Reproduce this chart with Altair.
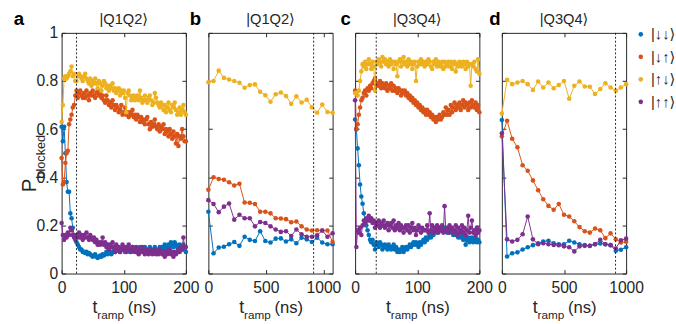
import altair as alt
import pandas as pd

FONT = "Liberation Sans, Arial, DejaVu Sans, sans-serif"
AX = "#262626"
STATES = ["|↓↓⟩", "|↓↑⟩", "|↑↓⟩", "|↑↑⟩"]
COLORS = ["#0072BD", "#D95319", "#EDB120", "#7E2F8E"]

W, H = 127, 246

# time axes (ns)
t_short = list(range(0, 201, 2))
t_b = [0, 45, 90, 135, 180, 225, 270, 315, 360, 405, 450, 495, 540,
       585, 630, 675, 720, 765, 810, 855, 900, 945, 990, 1035, 1080]
t_d = [0, 42, 83, 125, 167, 208, 250, 292, 333, 375, 417, 458, 500,
       542, 583, 625, 667, 708, 750, 792, 833, 875, 917, 958, 1000]

# ---------------- panel a : |Q1Q2>, 0-200 ns ----------------
a_dd = [0.61, 0.55, 0.61, 0.50, 0.38, 0.34, 0.34, 0.25, 0.23, 0.19,
        0.16, 0.15, 0.13, 0.12, 0.11, 0.10, 0.10, 0.09, 0.09, 0.085,
        0.09, 0.08, 0.085, 0.08, 0.075, 0.07, 0.075, 0.08, 0.07, 0.065,
        0.07, 0.075, 0.07, 0.08, 0.075, 0.08, 0.09, 0.08, 0.085, 0.09,
        0.08, 0.09, 0.095, 0.09, 0.10, 0.095, 0.10, 0.09, 0.10, 0.11,
        0.10, 0.09, 0.10, 0.11, 0.10, 0.09, 0.10, 0.11, 0.10, 0.105,
        0.10, 0.09, 0.10, 0.11, 0.10, 0.095, 0.10, 0.11, 0.10, 0.09,
        0.10, 0.11, 0.10, 0.095, 0.10, 0.11, 0.10, 0.09, 0.10, 0.11,
        0.10, 0.11, 0.10, 0.12, 0.11, 0.10, 0.12, 0.11, 0.13, 0.12,
        0.11, 0.13, 0.12, 0.11, 0.10, 0.12, 0.11, 0.10, 0.12, 0.10,
        0.09]
a_du = [0.48, 0.37, 0.38, 0.46, 0.50, 0.51, 0.62, 0.64, 0.66, 0.69,
        0.70, 0.74, 0.76, 0.73, 0.75, 0.76, 0.74, 0.73, 0.75, 0.73,
        0.76, 0.74, 0.72, 0.75, 0.74, 0.76, 0.74, 0.73, 0.75, 0.76,
        0.74, 0.75, 0.73, 0.74, 0.72, 0.71, 0.74, 0.72, 0.70, 0.71,
        0.69, 0.72, 0.70, 0.68, 0.70, 0.69, 0.67, 0.68, 0.70, 0.66,
        0.67, 0.69, 0.66, 0.67, 0.65, 0.67, 0.66, 0.68, 0.65, 0.66,
        0.64, 0.66, 0.65, 0.63, 0.65, 0.63, 0.64, 0.62, 0.64, 0.65,
        0.62, 0.60, 0.63, 0.61, 0.62, 0.64, 0.61, 0.60, 0.62, 0.59,
        0.61, 0.60, 0.62, 0.58, 0.60, 0.59, 0.57, 0.60, 0.58, 0.56,
        0.59, 0.57, 0.54, 0.58, 0.53, 0.57, 0.56, 0.60, 0.57, 0.55,
        0.55]
a_ud = [0.63, 0.70, 0.81, 0.82, 0.81, 0.82, 0.83, 0.84, 0.86, 0.82,
        0.83, 0.80, 0.80, 0.82, 0.83, 0.82, 0.81, 0.80, 0.82, 0.83,
        0.81, 0.80, 0.79, 0.81, 0.78, 0.80, 0.79, 0.81, 0.79, 0.77,
        0.80, 0.79, 0.76, 0.78, 0.80, 0.79, 0.77, 0.78, 0.76, 0.78,
        0.77, 0.79, 0.76, 0.77, 0.75, 0.76, 0.77, 0.74, 0.76, 0.75,
        0.76, 0.73, 0.67, 0.75, 0.76, 0.74, 0.72, 0.73, 0.74, 0.72,
        0.73, 0.74, 0.72, 0.76, 0.73, 0.71, 0.72, 0.74, 0.72, 0.71,
        0.73, 0.74, 0.72, 0.70, 0.71, 0.75, 0.73, 0.71, 0.70, 0.69,
        0.71, 0.70, 0.68, 0.70, 0.67, 0.69, 0.71, 0.68, 0.67, 0.70,
        0.69, 0.71, 0.68, 0.66, 0.67, 0.69, 0.66, 0.68, 0.70, 0.67,
        0.66]
a_uu = [0.21, 0.16, 0.14, 0.16, 0.15, 0.17, 0.16, 0.19, 0.18, 0.16,
        0.15, 0.14, 0.16, 0.15, 0.17, 0.15, 0.16, 0.14, 0.16, 0.15,
        0.17, 0.15, 0.14, 0.16, 0.15, 0.14, 0.15, 0.13, 0.14, 0.12,
        0.13, 0.12, 0.13, 0.15, 0.12, 0.13, 0.11, 0.12, 0.10, 0.12,
        0.11, 0.13, 0.11, 0.09, 0.12, 0.10, 0.11, 0.09, 0.10, 0.12,
        0.10, 0.11, 0.09, 0.10, 0.12, 0.10, 0.09, 0.11, 0.10, 0.09,
        0.11, 0.10, 0.08, 0.10, 0.09, 0.11, 0.09, 0.08, 0.10, 0.09,
        0.08, 0.10, 0.09, 0.08, 0.09, 0.10, 0.08, 0.09, 0.08, 0.10,
        0.09, 0.08, 0.09, 0.07, 0.09, 0.08, 0.09, 0.10, 0.08, 0.09,
        0.07, 0.09, 0.08, 0.09, 0.10, 0.09, 0.11, 0.10, 0.15, 0.11,
        0.11]

# ---------------- panel b : |Q1Q2>, long ramps ----------------
b_dd = [0.257, 0.084, 0.108, 0.111, 0.122, 0.131, 0.115, 0.153, 0.140, 0.135,
        0.176, 0.135, 0.129, 0.145, 0.146, 0.133, 0.142, 0.126, 0.149, 0.142,
        0.131, 0.149, 0.129, 0.122, 0.122]
b_du = [0.348, 0.400, 0.393, 0.390, 0.379, 0.366, 0.373, 0.295, 0.294, 0.289,
        0.257, 0.257, 0.250, 0.230, 0.229, 0.226, 0.213, 0.216, 0.196, 0.183,
        0.179, 0.180, 0.179, 0.179, 0.131]
b_ud = [0.795, 0.800, 0.843, 0.813, 0.806, 0.800, 0.793, 0.772, 0.783, 0.786,
        0.755, 0.741, 0.714, 0.745, 0.752, 0.738, 0.705, 0.736, 0.711, 0.722,
        0.691, 0.668, 0.702, 0.671, 0.668]
b_uu = [0.305, 0.289, 0.255, 0.278, 0.291, 0.224, 0.244, 0.230, 0.230, 0.196,
        0.214, 0.210, 0.196, 0.183, 0.173, 0.176, 0.156, 0.183, 0.163, 0.153,
        0.153, 0.159, 0.179, 0.153, 0.167]

# ---------------- panel c : |Q3Q4>, 0-200 ns ----------------
c_dd = [0.64, 0.60, 0.52, 0.45, 0.37, 0.32, 0.29, 0.25, 0.22, 0.20,
        0.18, 0.16, 0.14, 0.13, 0.14, 0.12, 0.10, 0.13, 0.12, 0.11,
        0.13, 0.12, 0.10, 0.11, 0.12, 0.11, 0.10, 0.12, 0.11, 0.10,
        0.11, 0.12, 0.10, 0.11, 0.09, 0.10, 0.09, 0.10, 0.11, 0.09,
        0.10, 0.11, 0.10, 0.11, 0.12, 0.11, 0.12, 0.13, 0.12, 0.13,
        0.12, 0.11, 0.13, 0.12, 0.13, 0.14, 0.13, 0.15, 0.14, 0.15,
        0.16, 0.15, 0.17, 0.16, 0.17, 0.18, 0.17, 0.18, 0.19, 0.18,
        0.19, 0.18, 0.19, 0.18, 0.17, 0.18, 0.17, 0.18, 0.17, 0.16,
        0.17, 0.16, 0.17, 0.15, 0.16, 0.15, 0.16, 0.14, 0.15, 0.12,
        0.14, 0.15, 0.13, 0.14, 0.15, 0.13, 0.14, 0.15, 0.13, 0.14,
        0.13]
c_du = [0.76, 0.60, 0.62, 0.66, 0.69, 0.72, 0.73, 0.75, 0.76, 0.74,
        0.77, 0.76, 0.78, 0.77, 0.79, 0.80, 0.81, 0.78, 0.79, 0.78,
        0.80, 0.77, 0.79, 0.78, 0.77, 0.79, 0.76, 0.78, 0.77, 0.79,
        0.76, 0.78, 0.76, 0.77, 0.75, 0.77, 0.76, 0.74, 0.76, 0.75,
        0.76, 0.74, 0.75, 0.73, 0.74, 0.72, 0.73, 0.71, 0.72, 0.70,
        0.71, 0.69, 0.70, 0.68, 0.69, 0.67, 0.68, 0.66, 0.68, 0.66,
        0.67, 0.65, 0.66, 0.64, 0.65, 0.63, 0.65, 0.64, 0.66, 0.64,
        0.65, 0.67, 0.66, 0.69, 0.66, 0.68, 0.66, 0.70, 0.67, 0.69,
        0.71, 0.68, 0.70, 0.69, 0.71, 0.68, 0.70, 0.72, 0.69, 0.71,
        0.70, 0.68, 0.71, 0.69, 0.72, 0.70, 0.69, 0.71, 0.68, 0.70,
        0.67]
c_ud = [0.75, 0.75, 0.74, 0.76, 0.80, 0.84, 0.87, 0.86, 0.88, 0.85,
        0.87, 0.89, 0.87, 0.85, 0.88, 0.86, 0.76, 0.88, 0.87, 0.89,
        0.88, 0.86, 0.90, 0.88, 0.89, 0.87, 0.88, 0.86, 0.89, 0.87,
        0.88, 0.85, 0.88, 0.87, 0.82, 0.88, 0.89, 0.86, 0.88, 0.90,
        0.87, 0.88, 0.86, 0.89, 0.87, 0.88, 0.85, 0.87, 0.88, 0.80,
        0.86, 0.88, 0.87, 0.89, 0.87, 0.88, 0.86, 0.88, 0.87, 0.89,
        0.88, 0.86, 0.85, 0.88, 0.87, 0.89, 0.86, 0.88, 0.87, 0.86,
        0.88, 0.85, 0.88, 0.86, 0.87, 0.88, 0.86, 0.88, 0.85, 0.87,
        0.88, 0.84, 0.87, 0.86, 0.88, 0.87, 0.86, 0.88, 0.87, 0.85,
        0.88, 0.86, 0.87, 0.78, 0.87, 0.86, 0.88, 0.85, 0.84, 0.89,
        0.83]
c_uu = [0.72, 0.11, 0.18, 0.17, 0.19, 0.16, 0.20, 0.22, 0.21, 0.23,
        0.22, 0.24, 0.22, 0.23, 0.21, 0.22, 0.19, 0.21, 0.20, 0.22,
        0.19, 0.21, 0.20, 0.22, 0.19, 0.20, 0.21, 0.18, 0.20, 0.21,
        0.19, 0.22, 0.18, 0.20, 0.19, 0.21, 0.18, 0.20, 0.19, 0.17,
        0.19, 0.20, 0.18, 0.20, 0.17, 0.19, 0.21, 0.18, 0.19, 0.16,
        0.18, 0.20, 0.19, 0.17, 0.19, 0.18, 0.18, 0.18, 0.20, 0.17,
        0.25, 0.18, 0.20, 0.17, 0.19, 0.18, 0.20, 0.17, 0.19, 0.18,
        0.20, 0.17, 0.28, 0.18, 0.19, 0.17, 0.20, 0.18, 0.19, 0.17,
        0.18, 0.20, 0.16, 0.19, 0.17, 0.18, 0.20, 0.17, 0.19, 0.16,
        0.18, 0.24, 0.17, 0.19, 0.22, 0.17, 0.18, 0.16, 0.19, 0.17,
        0.18]

# ---------------- panel d : |Q3Q4>, 0-1000 ns ----------------
d_dd = [0.638, 0.071, 0.084, 0.088, 0.100, 0.109, 0.118, 0.126, 0.133, 0.136,
        0.126, 0.122, 0.122, 0.136, 0.129, 0.122, 0.118, 0.115, 0.122, 0.125,
        0.122, 0.118, 0.095, 0.099, 0.109]
d_du = [0.570, 0.635, 0.560, 0.525, 0.450, 0.427, 0.387, 0.346, 0.309, 0.281,
        0.265, 0.289, 0.244, 0.237, 0.217, 0.193, 0.176, 0.170, 0.187, 0.180,
        0.147, 0.167, 0.142, 0.129, 0.132]
d_ud = [0.665, 0.805, 0.787, 0.794, 0.800, 0.787, 0.763, 0.798, 0.773, 0.794,
        0.770, 0.783, 0.800, 0.726, 0.780, 0.798, 0.777, 0.776, 0.746, 0.767,
        0.791, 0.773, 0.760, 0.773, 0.787]
d_uu = [0.583, 0.142, 0.133, 0.140, 0.163, 0.237, 0.142, 0.122, 0.126, 0.122,
        0.119, 0.118, 0.113, 0.109, 0.092, 0.113, 0.115, 0.115, 0.122, 0.140,
        0.122, 0.118, 0.104, 0.138, 0.145]

letters = ["a", "b", "c", "d"]
titles = ["|Q1Q2⟩", "|Q1Q2⟩", "|Q3Q4⟩", "|Q3Q4⟩"]
letter_dx = [-49, -19, -15, -13]
x_max = [200, 1080, 200, 1000]
x_ticks = [[0, 100, 200], [0, 500, 1000], [0, 100, 200], [0, 500, 1000]]
marker_t = [24, 915, 34, 915]
y_ticks = [0, 0.2, 0.4, 0.6, 0.8, 1]

panel_t = [t_short, t_b, t_short, t_d]
panel_series = [[a_dd, a_du, a_ud, a_uu], [b_dd, b_du, b_ud, b_uu],
                [c_dd, c_du, c_ud, c_uu], [d_dd, d_du, d_ud, d_uu]]


def make_panel(i):
    rows = []
    for s, vals in zip(STATES, panel_series[i]):
        for ti, v in zip(panel_t[i], vals):
            rows.append({"t": ti, "p": v, "state": s})
    df = pd.DataFrame(rows)

    xenc = alt.X("t:Q",
                 scale=alt.Scale(domain=[0, x_max[i]], nice=False, zero=False),
                 axis=alt.Axis(values=x_ticks[i], title=None, format="d",
                               grid=True, gridDash=[4, H - 8], gridColor=AX,
                               gridWidth=1, gridOpacity=1,
                               ticks=False, domain=False, labelFlush=False,
                               labelOverlap=False,
                               labelFont=FONT, labelFontSize=16,
                               labelColor=AX, labelPadding=6))
    yenc = alt.Y("p:Q",
                 scale=alt.Scale(domain=[0, 1], nice=False, zero=False),
                 axis=alt.Axis(values=y_ticks, title=None, format=".1~f",
                               labels=(i == 0),
                               grid=True, gridDash=[4, W - 8], gridColor=AX,
                               gridWidth=1, gridOpacity=1,
                               ticks=False, domain=False,
                               labelFont=FONT, labelFontSize=16,
                               labelColor=AX, labelPadding=4))
    cenc = alt.Color("state:N",
                     scale=alt.Scale(domain=STATES, range=COLORS),
                     legend=alt.Legend(title=None))

    base = alt.Chart(df)
    layers = []
    for s, c in zip(STATES, COLORS):
        f = base.transform_filter(alt.datum.state == s)
        layers.append(f.mark_line(color=c, strokeWidth=1).encode(x=xenc, y=yenc))
        layers.append(f.mark_circle(size=22, opacity=1).encode(
            x=xenc, y=yenc, color=cenc))

    rule = alt.Chart(pd.DataFrame({"t": [marker_t[i]]})).mark_rule(
        color=AX, strokeDash=[2, 2], strokeWidth=1).encode(x=xenc)
    layers.append(rule)

    one = alt.Chart(pd.DataFrame({"k": [0]}))
    layers.append(one.mark_text(text=letters[i], font=FONT, fontSize=19,
                                fontWeight="bold", color="black",
                                align="left", baseline="alphabetic").encode(
        x=alt.value(letter_dx[i]), y=alt.value(-8)))
    layers.append(one.mark_text(text=titles[i], font=FONT, fontSize=15,
                                color=AX, align="center",
                                baseline="alphabetic").encode(
        x=alt.value(W / 2), y=alt.value(-9)))
    # x axis title  t_ramp (ns)
    layers.append(one.mark_text(text="t", font=FONT, fontSize=18, color=AX,
                                align="left", baseline="alphabetic").encode(
        x=alt.value(W / 2 - 32), y=alt.value(H + 40)))
    layers.append(one.mark_text(text="ramp", font=FONT, fontSize=12, color=AX,
                                align="left", baseline="alphabetic").encode(
        x=alt.value(W / 2 - 27), y=alt.value(H + 46)))
    layers.append(one.mark_text(text="(ns)", font=FONT, fontSize=17, color=AX,
                                align="left", baseline="alphabetic").encode(
        x=alt.value(W / 2 + 4), y=alt.value(H + 40)))
    if i == 0:
        # y axis title  P_blocked (rotated, reading upwards)
        layers.append(one.mark_text(text="P", font=FONT, fontSize=21, color=AX,
                                    align="left", angle=270,
                                    baseline="alphabetic").encode(
            x=alt.value(-26), y=alt.value(163)))
        layers.append(one.mark_text(text="blocked", font=FONT, fontSize=13,
                                    color=AX, align="left", angle=270,
                                    baseline="alphabetic").encode(
            x=alt.value(-17), y=alt.value(149)))

    return alt.layer(*layers).properties(width=W, height=H)


panels = [make_panel(i) for i in range(4)]

chart = alt.HConcatChart(
    hconcat=panels, spacing=23, bounds="flush"
).configure_view(
    stroke=AX, strokeWidth=1
).configure_legend(
    orient="none", legendX=584.5, legendY=-6,
    labelFont=FONT, labelFontSize=15, labelColor=AX,
    symbolType="circle", symbolSize=22, symbolStrokeWidth=0,
    rowPadding=7, labelOffset=3, padding=0
).properties(
    padding={"left": 13, "top": 6, "right": 0, "bottom": 0}
)

chart.save("out.html", embed_options={"renderer": "svg", "actions": False})
